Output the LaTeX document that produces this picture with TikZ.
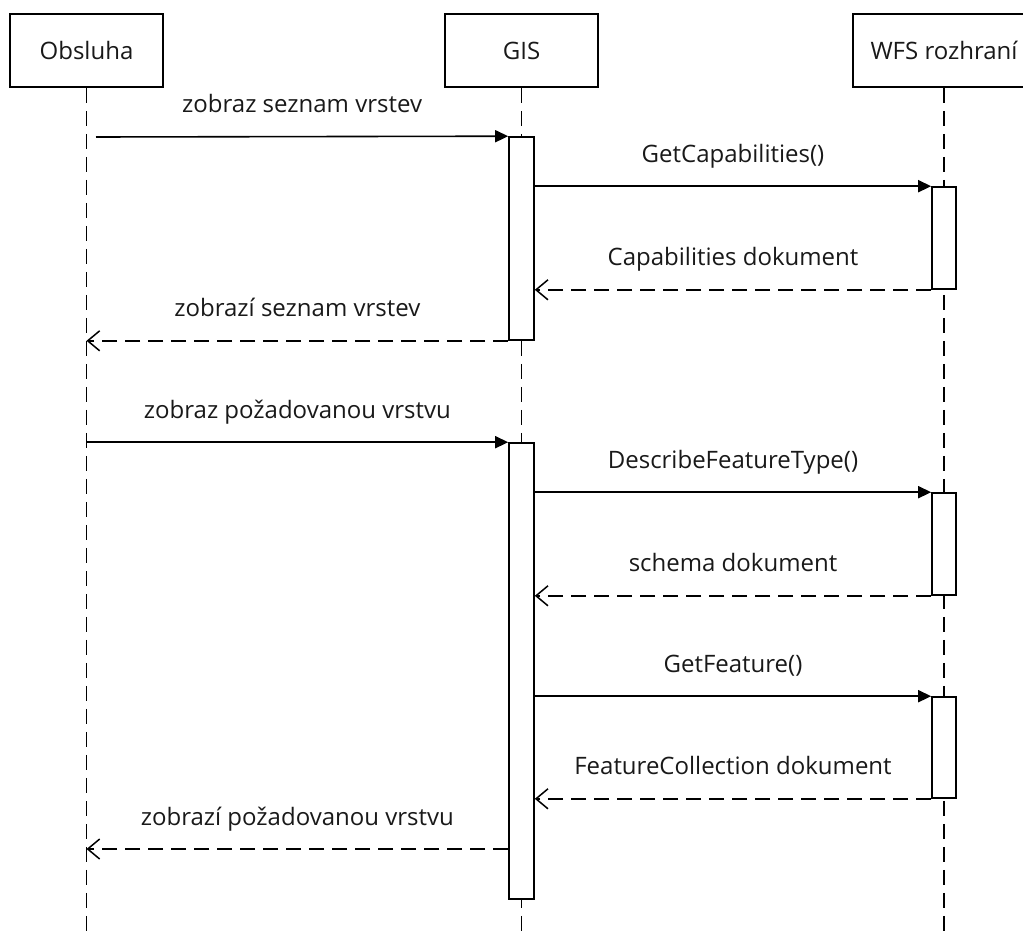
\documentclass[tikz,border=0pt]{standalone}
\usepackage{fontspec}
\setmainfont{Open Sans}
\usetikzlibrary{arrows.meta}
\begin{document}
\begin{tikzpicture}[x=1pt,y=-1pt,
  every node/.style={font=\fontsize{24}{28}\selectfont, text=black!90},
  actor/.style={draw, line width=1.6pt, fill=white, minimum width=153pt,
    minimum height=73pt, inner sep=0pt},
  life/.style={line width=1.6pt, dash pattern=on 15pt off 8pt},
  bar/.style={draw, line width=1.6pt, fill=white, minimum width=25pt, inner sep=0pt},
  call/.style={line width=1.6pt, -{Triangle[length=13pt,width=12pt]}},
  reply/.style={line width=1.6pt, dash pattern=on 15pt off 8pt,
    -{Straight Barb[length=12pt,width=20pt,line width=1.5pt]}},
  lbl/.style={midway, anchor=base, yshift=24pt}
]
\useasboundingbox (0,0) rectangle (1023,933);

% participants
\node[actor] (obs) at (86.5,50.5) {Obsluha};
\node[actor] (gis) at (521.5,50.5) {GIS};
\node[actor, minimum width=182pt] (wfs) at (944,50.5) {WFS rozhraní};

% lifelines
\coordinate (bottom) at (0,933);
\draw[life] (obs.south) -- (obs.south |- bottom);
\draw[life] (gis.south) -- (gis.south |- bottom);
\draw[life] (wfs.south) -- (wfs.south |- bottom);

% activation bars
\node[bar, minimum height=203pt] (g1) at (521.5,238.5) {};
\node[bar, minimum height=456pt] (g2) at (521.5,671) {};
\node[bar, minimum width=24pt, minimum height=102pt] (w1) at (944,238) {};
\node[bar, minimum width=24pt, minimum height=102pt] (w2) at (944,544) {};
\node[bar, minimum width=24pt, minimum height=101pt] (w3) at (944,747.5) {};

% endpoints on the Obsluha lifeline
\coordinate (o1) at (96,137);
\coordinate (o2) at (obs.south |- g1.south);
\coordinate (o3) at (obs.south |- g2.north);
\coordinate (o4) at (86.5,849);
\coordinate (g4) at (g2.west |- o4);

% first scenario
\draw[call] (o1) -- (g1.north west) node[lbl] {zobraz seznam vrstev};
\draw[call] (g1.east |- w1.north) -- (w1.north west) node[lbl] {GetCapabilities()};
\draw[reply] (w1.south west) -- (g1.east |- w1.south) node[lbl] {Capabilities dokument};
\draw[reply] (g1.south west) -- (o2) node[lbl] {zobrazí seznam vrstev};

% second scenario
\draw[call] (o3) -- (g2.north west) node[lbl] {zobraz požadovanou vrstvu};
\draw[call] (g2.east |- w2.north) -- (w2.north west) node[lbl] {DescribeFeatureType()};
\draw[reply] (w2.south west) -- (g2.east |- w2.south) node[lbl] {schema dokument};
\draw[call] (g2.east |- w3.north) -- (w3.north west) node[lbl] {GetFeature()};
\draw[reply] (w3.south west) -- (g2.east |- w3.south) node[lbl] {FeatureCollection dokument};
\draw[reply] (g4) -- (o4) node[lbl] {zobrazí požadovanou vrstvu};
\end{tikzpicture}
\end{document}
